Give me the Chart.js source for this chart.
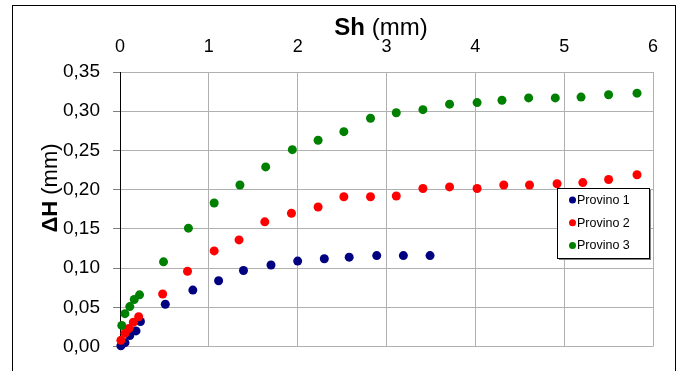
<!DOCTYPE html>
<html>
<head>
<meta charset="utf-8">
<script src="https://cdn.jsdelivr.net/npm/chart.js@4.4.1/dist/chart.umd.min.js"></script>
<style>
  html, body { margin: 0; padding: 0; background: #fff; }
  canvas { display: block; }
</style>
</head>
<body>
<canvas id="chart" width="680" height="371"></canvas>
<script>
// data
const seriesNames = ['Provino 1', 'Provino 2', 'Provino 3'];
const seriesColors = ['#000080', '#ff0000', '#008000'];

const p1X = [0.01, 0.056, 0.11, 0.18, 0.23, 0.51, 0.82, 1.11, 1.39, 1.70, 2.00, 2.30, 2.58, 2.89, 3.19, 3.49];
const p1Y = [0.001, 0.005, 0.014, 0.020, 0.032, 0.054, 0.072, 0.084, 0.097, 0.104, 0.109, 0.112, 0.114, 0.116, 0.116, 0.116];

const p2X = [0.01, 0.056, 0.10, 0.15, 0.21, 0.48, 0.76, 1.06, 1.34, 1.63, 1.93, 2.23, 2.52, 2.82, 3.11, 3.41, 3.71, 4.02, 4.32, 4.61, 4.92, 5.21, 5.50, 5.82];
const p2Y = [0.008, 0.017, 0.023, 0.031, 0.038, 0.067, 0.096, 0.122, 0.136, 0.159, 0.170, 0.178, 0.191, 0.191, 0.192, 0.2015, 0.2035, 0.2015, 0.206, 0.206, 0.2075, 0.209, 0.213, 0.219];

const p3X = [0.02, 0.056, 0.11, 0.16, 0.22, 0.49, 0.77, 1.06, 1.35, 1.64, 1.94, 2.23, 2.52, 2.82, 3.11, 3.41, 3.71, 4.02, 4.30, 4.60, 4.90, 5.19, 5.50, 5.82];
const p3Y = [0.027, 0.042, 0.051, 0.060, 0.066, 0.108, 0.151, 0.183, 0.206, 0.229, 0.251, 0.263, 0.274, 0.291, 0.298, 0.302, 0.309, 0.311, 0.314, 0.317, 0.317, 0.318, 0.321, 0.323];

const xMin = 0, xMax = 6, xStep = 1;
const yMin = 0, yMax = 0.35, yStep = 0.05;

const FONT = '"Liberation Sans", Arial, sans-serif';
const GRID = '#b0b0b0';

const toPoints = (xs, ys) => xs.map((x, i) => ({ x: x, y: ys[i] }));
const allX = [p1X, p2X, p3X];
const allY = [p1Y, p2Y, p3Y];

const datasets = seriesNames.map((name, i) => ({
  label: name,
  data: toPoints(allX[i], allY[i]),
  backgroundColor: seriesColors[i],
  borderColor: seriesColors[i],
  pointRadius: 4.5,
  pointBorderWidth: 0,
  showLine: false,
  clip: false,
  order: 3 - i // later series on top, like the original
}));

// outer frame, axis titles and the boxed legend
const decorations = {
  id: 'decorations',
  beforeDraw(chart) {
    const ctx = chart.ctx;
    ctx.save();
    ctx.fillStyle = '#fff';
    ctx.fillRect(0, 0, chart.width, chart.height);
    ctx.strokeStyle = '#000';
    ctx.lineWidth = 1;
    ctx.strokeRect(12.5, 5.5, 663, 400);
    ctx.restore();
  },
  afterDraw(chart) {
    const ctx = chart.ctx;
    ctx.save();
    ctx.fillStyle = '#000';
    ctx.textBaseline = 'alphabetic';

    // top title: Sh (mm)
    ctx.font = 'bold 24px ' + FONT;
    const wSh = ctx.measureText('Sh').width;
    ctx.font = '24px ' + FONT;
    const wMm = ctx.measureText(' (mm)').width;
    let tx = 381 - (wSh + wMm) / 2;
    ctx.font = 'bold 24px ' + FONT;
    ctx.textAlign = 'left';
    ctx.fillText('Sh', tx, 35);
    ctx.font = '24px ' + FONT;
    ctx.fillText(' (mm)', tx + wSh, 35);

    // left title: ΔH (mm)
    ctx.save();
    ctx.translate(57, 188);
    ctx.rotate(-Math.PI / 2);
    ctx.font = 'bold 22px ' + FONT;
    const wDH = ctx.measureText('\u0394H').width;
    ctx.font = '22px ' + FONT;
    const wMm2 = ctx.measureText(' (mm)').width;
    let ly = -(wDH + wMm2) / 2;
    ctx.font = 'bold 22px ' + FONT;
    ctx.fillText('\u0394H', ly, 0);
    ctx.font = '22px ' + FONT;
    ctx.fillText(' (mm)', ly + wDH, 0);
    ctx.restore();

    // legend box
    const bx = 557, by = 188, bw = 92, bh = 70;
    ctx.fillStyle = '#808080';
    ctx.fillRect(bx + 2, by + 2, bw, bh);
    ctx.fillStyle = '#fff';
    ctx.fillRect(bx, by, bw, bh);
    ctx.strokeStyle = '#000';
    ctx.lineWidth = 1;
    ctx.strokeRect(bx + 0.5, by + 0.5, bw, bh);
    ctx.font = '12.5px ' + FONT;
    ctx.textBaseline = 'middle';
    seriesNames.forEach((name, i) => {
      const cy = 200 + i * 22.7;
      ctx.fillStyle = seriesColors[i];
      ctx.beginPath();
      ctx.arc(572.5, cy, 3.5, 0, Math.PI * 2);
      ctx.fill();
      ctx.fillStyle = '#000';
      ctx.fillText(name, 577, cy + 0.5);
    });
    ctx.restore();
  }
};

new Chart(document.getElementById('chart'), {
  type: 'scatter',
  data: { datasets: datasets },
  options: {
    responsive: false,
    animation: false,
    devicePixelRatio: 1,
    layout: { padding: { left: 0, top: 0, right: 27, bottom: 9 } },
    plugins: {
      legend: { display: false },
      tooltip: { enabled: false },
      title: { display: false }
    },
    scales: {
      x: {
        type: 'linear',
        position: 'top',
        min: xMin,
        max: xMax,
        afterFit: (scale) => { scale.height = 72; },
        ticks: {
          stepSize: xStep,
          color: '#000',
          padding: 14,
          font: { family: FONT, size: 18 }
        },
        grid: { color: GRID, drawTicks: false, lineWidth: 1 },
        border: { display: true, color: GRID }
      },
      y: {
        type: 'linear',
        min: yMin,
        max: yMax,
        afterFit: (scale) => { scale.width = 120; },
        ticks: {
          stepSize: yStep,
          color: '#000',
          padding: 13,
          font: { family: FONT, size: 19 },
          callback: (v) => v.toFixed(2).replace('.', ',')
        },
        grid: { color: GRID, tickLength: 7, tickColor: '#808080', lineWidth: 1 },
        border: { display: true, color: '#000' }
      }
    }
  },
  plugins: [decorations]
});
</script>
</body>
</html>
